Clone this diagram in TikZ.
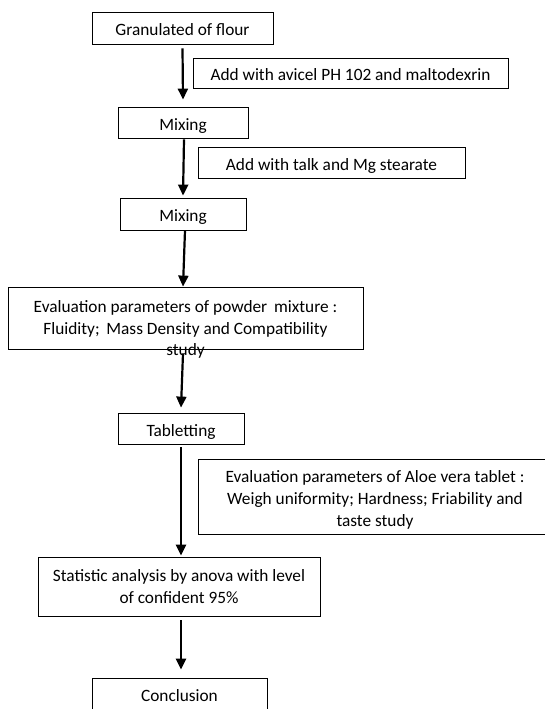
\documentclass[tikz,border=0pt]{standalone}
\usepackage{fontspec}
\setmainfont{Carlito}
\usetikzlibrary{arrows.meta}
\begin{document}
\begin{tikzpicture}[x=1pt,y=-1pt,
  txtfont/.style={font=\fontsize{17.3}{22}\selectfont},
  box/.style={draw, line width=0.8pt, rectangle, inner sep=0pt, txtfont},
  onebox/.style={box, text height=17pt, text depth=1.8pt},
  lbl/.style={inner sep=0pt, align=center, txtfont},
  arr/.style={line width=2.2pt, -{Triangle[length=11pt,width=10pt]}}]
\useasboundingbox (0,0) rectangle (545,709);
\node[onebox, minimum width=181, minimum height=32] (gran) at (182.5,28) {Granulated of flour};
\node[onebox, minimum width=315, minimum height=30] (avicel) at (350.5,73) {Add with avicel PH 102 and maltodexrin};
\node[onebox, minimum width=130, minimum height=31] (mix1) at (183,122.5) {Mixing};
\node[onebox, minimum width=267, minimum height=31] (talk) at (331.5,162.5) {Add with talk and Mg stearate};
\node[onebox, minimum width=126, minimum height=32] (mix2) at (183,214) {Mixing};
\node[box, minimum width=355, minimum height=62] (evalp) at (185.5,318) {};
\node[lbl, font=\fontsize{17.3}{21.5}\selectfont] (evalpt) at (185.5,329.5) {Evaluation parameters of powder\, mixture :\\Fluidity;\, Mass Density and Compatibility\\study};
\node[onebox, minimum width=126, minimum height=31] (tab) at (181,428.5) {Tabletting};
\node[box, minimum width=354, minimum height=75] (aloe) at (375,496.5) {};
\node[lbl] (aloet) at (375,499.5) {Evaluation parameters of Aloe vera tablet :\\Weigh uniformity; Hardness; Friability and\\taste study};
\node[box, align=center, minimum width=282, minimum height=59] (stat) at (179,586.5) {Statistic analysis by anova with level\\of confident 95\%};
\node[onebox, minimum width=175, minimum height=32] (concl) at (179.5,694) {Conclusion};
\draw[arr] ([yshift=-4]gran.south) -- ([yshift=7]mix1.north);
\draw[arr] ([xshift=1,yshift=-1]mix1.south) -- ([yshift=2]mix2.north);
\draw[arr] ([xshift=2,yshift=0]mix2.south) -- ([xshift=-2.5]evalp.north);
\draw[arr] ([xshift=-2.5,yshift=-4]evalp.south) -- ([yshift=5]tab.north);
\draw[arr] ([yshift=-3]tab.south) -- ([xshift=2,yshift=1]stat.north);
\draw[arr] ([xshift=2,yshift=-4]stat.south) -- ([xshift=1.5,yshift=8]concl.north);
\end{tikzpicture}
\end{document}
